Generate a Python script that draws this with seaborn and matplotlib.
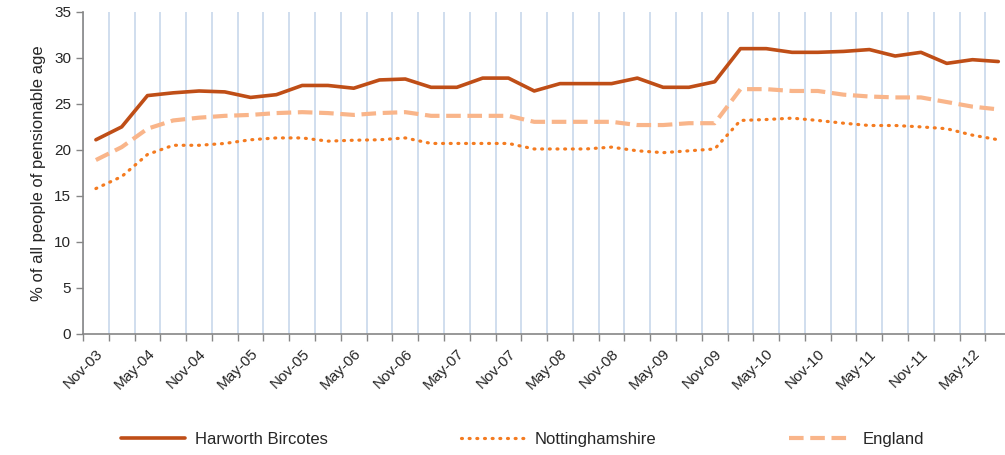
import pandas as pd
import matplotlib
matplotlib.use('Agg')
import matplotlib.pyplot as plt
import seaborn as sns
from matplotlib.ticker import FixedLocator

# 분기별 라벨 (Nov-03 ~ Aug-12)
quarters = ['Nov-03', 'Feb-04', 'May-04', 'Aug-04', 'Nov-04', 'Feb-05', 'May-05', 'Aug-05',
            'Nov-05', 'Feb-06', 'May-06', 'Aug-06', 'Nov-06', 'Feb-07', 'May-07', 'Aug-07',
            'Nov-07', 'Feb-08', 'May-08', 'Aug-08', 'Nov-08', 'Feb-09', 'May-09', 'Aug-09',
            'Nov-09', 'Feb-10', 'May-10', 'Aug-10', 'Nov-10', 'Feb-11', 'May-11', 'Aug-11',
            'Nov-11', 'Feb-12', 'May-12', 'Aug-12']

harworth = [21.1, 22.5, 25.9, 26.2, 26.4, 26.3, 25.7, 26.0, 27.0, 27.0, 26.7, 27.6,
            27.7, 26.8, 26.8, 27.8, 27.8, 26.4, 27.2, 27.2, 27.2, 27.8, 26.8, 26.8,
            27.4, 31.0, 31.0, 30.6, 30.6, 30.7, 30.9, 30.2, 30.6, 29.4, 29.8, 29.6]
notts = [15.8, 17.1, 19.5, 20.5, 20.5, 20.7, 21.1, 21.3, 21.3, 20.95, 21.05, 21.1,
         21.3, 20.7, 20.7, 20.7, 20.7, 20.1, 20.1, 20.1, 20.3, 19.9, 19.7, 19.9,
         20.1, 23.2, 23.3, 23.45, 23.2, 22.9, 22.65, 22.65, 22.5, 22.3, 21.6, 21.1]
england = [18.9, 20.3, 22.3, 23.2, 23.5, 23.7, 23.8, 24.0, 24.1, 24.0, 23.8, 24.0,
           24.1, 23.7, 23.7, 23.7, 23.7, 23.05, 23.05, 23.05, 23.05, 22.7, 22.7, 22.9,
           22.9, 26.6, 26.6, 26.4, 26.4, 26.0, 25.8, 25.7, 25.7, 25.2, 24.7, 24.4]

df = pd.DataFrame({'pos': range(len(quarters)), 'Harworth Bircotes': harworth,
                   'Nottinghamshire': notts, 'England': england})

sns.set_style('white')
plt.rcParams['font.family'] = ['Liberation Sans', 'DejaVu Sans']

fig = plt.figure(figsize=(10.05, 4.55), dpi=100)
ax = fig.add_axes([0.0826, 0.266, 0.9174, 0.708])

sns.lineplot(data=df, x='pos', y='Harworth Bircotes', ax=ax, color='#BF4E17', lw=2.6,
             label='Harworth Bircotes')
sns.lineplot(data=df, x='pos', y='Nottinghamshire', ax=ax, color='#F47B20', lw=2.3,
             linestyle=(0, (0.3, 2.1)), dash_capstyle='round', label='Nottinghamshire')
sns.lineplot(data=df, x='pos', y='England', ax=ax, color='#F9B58A', lw=3,
             linestyle=(0, (3.5, 1.6)), label='England')

ax.set_xlim(-0.5, 35.26)
ax.set_ylim(0, 35)
ax.set_yticks(range(0, 36, 5))
ax.set_xticks(range(0, len(quarters), 2))
ax.set_xticklabels(quarters[::2], rotation=45, ha='right', rotation_mode='anchor', fontsize=11)
ax.xaxis.set_minor_locator(FixedLocator([i - 0.5 for i in range(len(quarters) + 1)]))
ax.tick_params(axis='x', which='major', length=0, pad=9)
ax.tick_params(axis='x', which='minor', length=5, color='#868686', width=1, direction='out', bottom=True)
ax.tick_params(axis='y', length=5, color='#868686', width=1, direction='out', left=True, labelsize=11)
ax.grid(False)
ax.grid(True, axis='x', which='minor', color='#C3D4EA', lw=1.1)
ax.set_xlabel('')
ax.set_ylabel('% of all people of pensionable age', fontsize=12, labelpad=6)

for s in ['top', 'right']:
    ax.spines[s].set_visible(False)
for s in ['left', 'bottom']:
    ax.spines[s].set_color('#868686')
    ax.spines[s].set_linewidth(1.2)

ax.get_legend().remove()
handles, labels = ax.get_legend_handles_labels()
fig.legend(handles, labels, loc='lower center', bbox_to_anchor=(0.52, -0.015), ncol=3,
           frameon=False, fontsize=12, handlelength=3.8, columnspacing=8, handletextpad=0.6)

fig.savefig('out.png', dpi=100)
